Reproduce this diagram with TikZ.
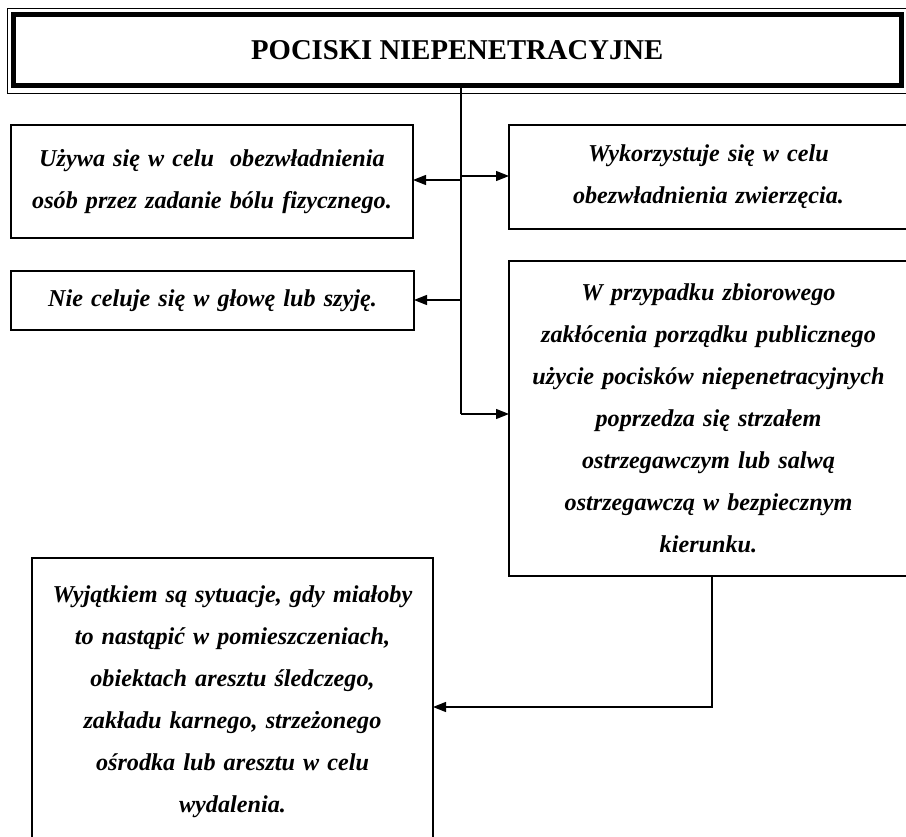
\documentclass[tikz,border=0pt]{standalone}
\usepackage{fontspec}
\setmainfont{Liberation Serif}
\usepackage{tikz}
\usetikzlibrary{arrows.meta}
\usetikzlibrary{calc}

\begin{document}
\begin{tikzpicture}[x=1pt, y=-1pt,
	box/.style={draw, line width=1.3pt, outer sep=0pt, inner sep=0pt, align=center,
		font=\bfseries\itshape\fontsize{24.2}{42}\selectfont},
	arr/.style={line width=1.4pt, -{Triangle[length=13pt,width=10pt]}},
	conn/.style={line width=1.4pt}]
	% page: 906 x 837 px
	\useasboundingbox (0,0) rectangle (906,837);
	\clip (0,0) rectangle (906,837);
	
	% heading with thick/thin frame
	\node[draw, line width=5pt, outer sep=0pt, minimum width=887.5pt, minimum height=71.5pt,
		font=\bfseries\fontsize{28.7}{32}\selectfont] (title) at (457.25,50.25) {POCISKI NIEPENETRACYJNE};
	\draw[line width=1pt] ($(title.north west)+(-6.5,-5.5)$) rectangle ($(title.south east)+(9,7.5)$);
	
	% boxes
	\node[box, minimum width=402pt, minimum height=113pt, text width=395pt] (use) at (212,181.5)
		{Używa się w celu\ \ obezwładnienia\\osób przez zadanie bólu fizycznego.};
	\node[box, minimum width=399pt, minimum height=104pt, text width=395pt] (animal) at (708.5,177)
		{Wykorzystuje się w celu\\obezwładnienia zwierzęcia.};
	\node[box, minimum width=403pt, minimum height=59pt, text width=395pt] (head) at (212.5,300.5)
		{Nie celuje się w głowę lub szyję.};
	\node[box, minimum width=399pt, minimum height=315pt, text width=395pt] (crowd) at (708.5,418.5)
		{W przypadku zbiorowego\\zakłócenia porządku publicznego\\użycie pocisków niepenetracyjnych\\poprzedza się strzałem\\ostrzegawczym lub salwą\\ostrzegawczą w bezpiecznym\\kierunku.};
	\node[box, minimum width=401pt, minimum height=288pt, text width=395pt] (exception) at (232.5,702)
		{Wyjątkiem są sytuacje, gdy miałoby\\to nastąpić w pomieszczeniach,\\obiektach aresztu śledczego,\\zakładu karnego, strzeżonego\\ośrodka lub aresztu w celu\\wydalenia.};
	
	% trunk and branches
	\coordinate (t1) at (461,180);
	\coordinate (t2) at (461,176);
	\coordinate (t3) at (461,300);
	\coordinate (t4) at (461,414);
	\draw[conn] (title.south -| t1) -- (t4);
	\draw[arr] (t1) -- (t1 -| use.east);
	\draw[arr] (t2) -- (t2 -| animal.west);
	\draw[arr] (t3) -- (t3 -| head.east);
	\draw[arr] (t4) -- (t4 -| crowd.west);
	
	% from the crowd box to the exception box
	\coordinate (bend) at (712,707);
	\draw[arr] (crowd.south -| bend) -- (bend) -- (bend -| exception.east);
\end{tikzpicture}
\end{document}
